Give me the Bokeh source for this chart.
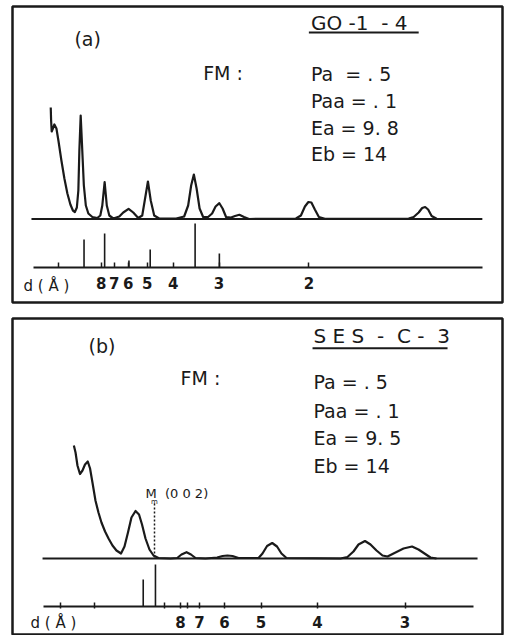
from bokeh.plotting import figure
from bokeh.models import LinearAxis, FixedTicker, Label, Range1d
from bokeh.layouts import column
from bokeh.embed import file_html
from bokeh.resources import INLINE

# ---------------- Panel (a): GO-1-4 ----------------
a_curve_2theta = [1.72, 1.78, 1.88, 2.08, 2.33, 2.67, 3.0, 3.5, 4.0, 4.5, 5.0, 5.42, 5.75, 6.08,
                  6.33, 6.5, 6.72, 6.9, 7.05, 7.25, 7.58, 8.0, 8.67, 9.5, 10.0, 10.33, 10.72,
                  11.08, 11.5, 12.17, 13.17, 13.83, 14.72, 15.5, 16.33, 17.0, 17.42, 17.95,
                  18.42, 19.0, 19.83, 22.67, 24.0, 24.67, 25.17, 25.62, 26.08, 26.58, 27.17,
                  28.0, 28.67, 29.25, 29.88, 30.42, 31.0, 31.83, 32.5, 33.22, 34.0, 34.83,
                  42.67, 43.5, 44.17, 44.75, 45.25, 45.83, 46.5, 47.5, 61.5, 62.33, 63.17,
                  63.75, 64.25, 64.75, 65.33, 66.17]
a_curve_int = [111.5, 98.5, 87.5, 90.5, 94.5, 90.5, 78.5, 58.5, 40.5, 25.5, 14.5, 8.5, 7.0, 11.5,
               28.5, 68.5, 103.5, 80.0, 60.0, 33.5, 13.5, 5.5, 2.0, 1.0, 3.5, 13.5, 37.0,
               13.5, 3.5, 0.5, 2.5, 6.5, 10.2, 6.5, 1.0, 3.5, 18.5, 37.5,
               18.5, 3.5, 0.5, 0.5, 2.5, 13.5, 33.5, 44.5, 30.5, 10.5, 2.0,
               2.0, 5.5, 12.5, 15.8, 10.5, 2.0, 1.5, 3.0, 4.2, 2.0, 0.0,
               0.5, 3.5, 12.5, 17.0, 16.5, 9.5, 2.0, 0.2, 0.5, 2.0, 6.5,
               11.0, 12.0, 9.5, 3.0, 0.2]
a_baseline_2theta = [-1.5, 73.8]
a_stick_2theta = [7.28, 10.72, 14.78, 18.33, 25.83, 29.88]
a_stick_int = [28, 34, 7, 18, 44, 14]
a_stick_base = -48.5
a_axis_bounds = (-1.17, 73.83)
a_tick_2theta = [3.05, 10.17, 12.33, 14.67, 17.83, 22.17, 29.83, 44.83]
a_tick_labels = ["", "8", "7", "6", "5", "4", "3", "2"]

# ---------------- Panel (b): SES-C-3 ----------------
b_curve_2theta = [1.78, 1.92, 2.08, 2.29, 2.5, 2.71, 2.94, 3.13, 3.33, 3.58, 3.83, 4.08, 4.38,
                  4.67, 5.0, 5.33, 5.71, 6.0, 6.29, 6.58, 6.92, 7.21, 7.46, 7.75, 8.08, 8.42,
                  8.83, 9.83, 10.39, 10.75, 11.17, 11.54, 11.92, 12.75, 13.72, 14.17, 14.58,
                  15.0, 15.5, 17.17, 17.5, 17.88, 18.31, 18.71, 19.08, 19.5, 24.0, 24.58,
                  25.08, 25.5, 26.04, 26.5, 27.0, 27.5, 27.92, 28.5, 29.25, 29.96, 30.5,
                  31.0, 31.5, 32.0]
b_curve_int = [113, 106, 93, 84.5, 88, 94, 97, 90, 76, 58, 46, 36, 27,
               20, 13, 8, 5, 12, 26, 41, 47.5, 44, 34, 20, 9, 3,
               0.5, 0, 0.5, 4, 6.3, 4, 0.5, 0, 1, 2.5, 3,
               2.5, 0.5, 0.5, 5, 12.5, 15.5, 12, 5, 0.5, 0, 1.5,
               7, 14, 17.5, 14, 8, 3, 2, 5.5, 10, 12, 9,
               5, 1, 0]
b_baseline_2theta = [-0.83, 35.42]
b_stick_2theta = [7.56, 8.58]
b_stick_int = [27, 42]
b_stick_base = -48
b_axis_bounds = (-0.75, 35.08)
b_tick_2theta = [0.67, 3.53, 9.36, 10.67, 11.28, 12.25, 14.33, 17.38, 22.08, 29.38]
b_tick_labels = ["", "", "", "8", "", "7", "6", "5", "4", "3"]
b_m002_2theta = 8.5
b_m002_int = [1, 55]

FONT = "DejaVu Sans"
INK = "#1a1a1a"
NB = "\u00a0"


def make_panel(width, height, borders, xr, yr):
    p = figure(width=width, height=height, output_backend="svg", toolbar_location=None,
               x_axis_location=None, y_axis_location=None,
               x_range=Range1d(*xr), y_range=Range1d(*yr),
               min_border_left=borders[0], min_border_right=borders[1],
               min_border_top=borders[2], min_border_bottom=borders[3])
    p.grid.grid_line_color = None
    p.outline_line_color = INK
    p.outline_line_width = 2.5
    p.background_fill_color = "white"
    p.border_fill_color = "white"
    return p


def add_axis(p, base, bounds, ticks, labels, tin, tout, standoff):
    ax = LinearAxis(fixed_location=base, bounds=bounds,
                    ticker=FixedTicker(ticks=ticks, minor_ticks=[]),
                    major_label_overrides={t: l for t, l in zip(ticks, labels)})
    ax.axis_line_color = INK
    ax.axis_line_width = 2
    ax.major_tick_line_color = INK
    ax.major_tick_line_width = 1.5
    ax.major_tick_in = tin
    ax.major_tick_out = tout
    ax.minor_tick_line_color = None
    ax.major_label_standoff = standoff
    ax.major_label_text_font = FONT
    ax.major_label_text_font_size = "15px"
    ax.major_label_text_font_style = "bold"
    ax.major_label_text_color = INK
    p.add_layout(ax, "below")


def lab(p, x, y, text, size="19px", align="left"):
    p.add_layout(Label(x=x, y=y, text=text, text_font=FONT, text_font_size=size,
                       text_align=align, text_baseline="middle", text_color=INK))


# ---- panel (a) ----
pa = make_panel(504, 310, (11, 2, 6, 8), (-4.667, 77.167), (-83.5, 212.5))
pa.line(a_baseline_2theta, [0, 0], line_color=INK, line_width=2)
pa.line(a_curve_2theta, a_curve_int, line_color=INK, line_width=2.2, line_join="round")
pa.segment(x0=a_stick_2theta, y0=[a_stick_base] * len(a_stick_2theta),
           x1=a_stick_2theta, y1=[a_stick_base + h for h in a_stick_int],
           line_color=INK, line_width=1.6)
add_axis(pa, a_stick_base, a_axis_bounds, a_tick_2theta, a_tick_labels, 5, 0, 9)
lab(pa, -2.83, -66.5, "d" + NB + "(" + NB + "Å" + NB + ")", size="15px")
lab(pa, 5.67, 180.5, "(a)")
lab(pa, 45.17, 196.5, "GO -1" + NB + " - 4", size="20px")
pa.line([44.83, 63.17], [186.5, 186.5], line_color=INK, line_width=2)
lab(pa, 27.17, 146.5, "FM" + NB + ":")
lab(pa, 45.17, 145.5, "Pa" + NB + " = . 5")
lab(pa, 45.17, 118.5, "Paa = . 1")
lab(pa, 45.17, 91.5, "Ea = 9. 8")
lab(pa, 45.17, 65.5, "Eb = 14")

# ---- panel (b) ----
pb = make_panel(504, 325, (12, 2, 8, 0), (-3.333, 37.5), (-77, 240))
pb.line(b_baseline_2theta, [0, 0], line_color=INK, line_width=2)
pb.line(b_curve_2theta, b_curve_int, line_color=INK, line_width=2.2, line_join="round")
pb.segment(x0=b_stick_2theta, y0=[b_stick_base] * len(b_stick_2theta),
           x1=b_stick_2theta, y1=[b_stick_base + h for h in b_stick_int],
           line_color=INK, line_width=1.6)
pb.line([b_m002_2theta, b_m002_2theta], b_m002_int, line_color=INK, line_width=1.5,
        line_dash="2 2")
add_axis(pb, b_stick_base, b_axis_bounds, b_tick_2theta, b_tick_labels, 4, 2, 7)
lab(pb, -1.83, -64, "d" + NB + "(" + NB + "Å" + NB + ")", size="15px")
lab(pb, 3.0, 213, "(b)")
lab(pb, 21.75, 223, "S E S" + NB + " - " + NB + "C - " + NB + "3", size="20px")
pb.line([21.67, 32.92], [210.3, 210.3], line_color=INK, line_width=2)
lab(pb, 10.67, 181, "FM" + NB + ":")
lab(pb, 21.75, 176.3, "Pa = . 5")
lab(pb, 21.75, 148, "Paa = . 1")
lab(pb, 21.75, 120.3, "Ea" + NB + "= 9. 5")
lab(pb, 21.75, 93, "Eb" + NB + "= 14")
lab(pb, 7.75, 65.3, "M" + NB + " (0 0 2)", size="13px")
lab(pb, 8.5, 57, "m", size="7px", align="center")

layout = column(pa, pb)
open("out.html", "w").write(file_html(layout, INLINE))
